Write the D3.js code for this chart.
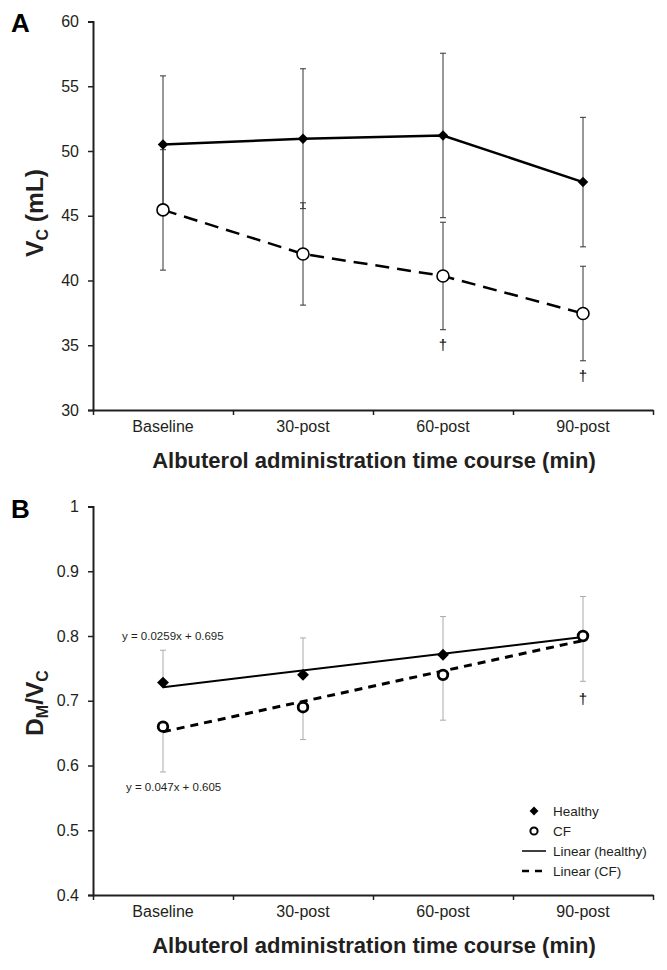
<!DOCTYPE html>
<html>
<head>
<meta charset="utf-8">
<script src="https://cdn.jsdelivr.net/npm/d3@7"></script>
<style>
  html, body { margin: 0; padding: 0; background: #fff; }
  svg { display: block; font-family: "Liberation Sans", Arial, sans-serif; }
</style>
</head>
<body>
<svg id="chart" width="667" height="970"></svg>
<script>
// ---------------- data ----------------
const categories = ["Baseline", "30-post", "60-post", "90-post"];

// Panel A: Vc (mL), mean and SD
const vcHealthy = [50.5, 50.95, 51.2, 47.6];
const vcHealthyErr = [5.3, 5.4, 6.35, 5.0];
const vcCF = [45.45, 42.05, 40.35, 37.45];
const vcCFErr = [4.65, 3.95, 4.15, 3.65];
const vcTicks = [30, 35, 40, 45, 50, 55, 60];
const vcDagger = [false, false, true, true];

// Panel B: DM/Vc
const dmHealthy = [0.728, 0.74, 0.771, 0.80];
const dmHealthyErr = [0.05, 0.057, 0.059, 0.061];
const dmCF = [0.66, 0.69, 0.74, 0.80];
const dmCFErr = [0.07, 0.05, 0.07, 0.07];
const dmTicks = [0.4, 0.5, 0.6, 0.7, 0.8, 0.9, 1];
const dmDagger = [false, false, false, true];

// Linear trendlines (Excel): slope, intercept
const trendHealthy = [0.0259, 0.695];
const trendCF = [0.047, 0.605];
const trendLabels = ["y = 0.0259x + 0.695", "y = 0.047x + 0.605"];

const legendLabels = ["Healthy", "CF", "Linear (healthy)", "Linear (CF)"];
const xTitle = "Albuterol administration time course (min)";

// ---------------- layout ----------------
const svg = d3.select("#chart");
const ink = "#231f20";
const left = 93, right = 653;

const x = d3.scaleBand().domain(categories).range([left, right]).padding(0);
const xEdge = d3.scaleLinear().domain([0, categories.length]).range([left, right]);
const cx = c => x(c) + x.bandwidth() / 2;

function drawAxes(g, y, ticks, fmt, top, bottom) {
  const ya = g.append("g").attr("transform", `translate(${left},0)`)
    .call(d3.axisLeft(y).tickValues(ticks).tickFormat(fmt).tickSize(5).tickPadding(9));
  ya.select(".domain").attr("stroke", ink).attr("stroke-width", 2);
  ya.selectAll(".tick line").attr("stroke", ink).attr("stroke-width", 1.5);
  ya.selectAll(".tick text").attr("fill", ink).style("font-size", "16px")
    .style("font-family", "Liberation Sans, Arial, sans-serif");
  const xa = g.append("g").attr("transform", `translate(0,${bottom})`)
    .call(d3.axisBottom(xEdge).tickValues(d3.range(categories.length + 1)).tickFormat("").tickSize(5).tickSizeOuter(0));
  xa.select(".domain").attr("stroke", ink).attr("stroke-width", 2);
  xa.selectAll(".tick line").attr("stroke", ink).attr("stroke-width", 1.5);
  const xl = g.append("g").attr("transform", `translate(0,${bottom})`)
    .call(d3.axisBottom(x).tickSize(0).tickPadding(11));
  xl.select(".domain").remove();
  xl.selectAll(".tick text").attr("fill", ink).style("font-size", "16px")
    .style("font-family", "Liberation Sans, Arial, sans-serif");
  g.append("text").attr("x", 374).attr("y", bottom + 58)
    .attr("text-anchor", "middle").attr("fill", ink)
    .style("font-size", "22px").style("font-weight", "bold").text(xTitle);
}

function diamond(sel, s) {
  sel.attr("d", d3.symbol().type(d3.symbolDiamond2 || d3.symbolDiamond).size(s));
}

function errBars(g, y, vals, errs, dirUp, dirDown, color, width) {
  const cap = 3;
  vals.forEach((v, i) => {
    const xc = cx(categories[i]);
    const hi = dirUp ? v + errs[i] : v;
    const lo = dirDown ? v - errs[i] : v;
    g.append("line").attr("x1", xc).attr("x2", xc).attr("y1", y(hi)).attr("y2", y(lo))
      .attr("stroke", color).attr("stroke-width", width);
    if (dirUp) g.append("line").attr("x1", xc - cap).attr("x2", xc + cap).attr("y1", y(hi)).attr("y2", y(hi))
      .attr("stroke", color).attr("stroke-width", width);
    if (dirDown) g.append("line").attr("x1", xc - cap).attr("x2", xc + cap).attr("y1", y(lo)).attr("y2", y(lo))
      .attr("stroke", color).attr("stroke-width", width);
  });
}

function dagger(g, xpos, ypos) {
  g.append("text").attr("x", xpos).attr("y", ypos).attr("text-anchor", "middle")
    .attr("fill", "#000").style("font-family", "Liberation Sans, Arial, sans-serif")
    .style("font-size", "15px").text("\u2020");
}

// ======================= Panel A =======================
const gA = svg.append("g");
const yA = d3.scaleLinear().domain([30, 60]).range([410, 21.5]);
drawAxes(gA, yA, vcTicks, d3.format("d"), 21.5, 410);

gA.append("text").attr("x", 11).attr("y", 32).attr("fill", "#000")
  .style("font-size", "26px").style("font-weight", "bold").text("A");

const ylabA = gA.append("text").attr("transform", "translate(43,213) rotate(-90)")
  .attr("text-anchor", "middle").attr("fill", ink).style("font-size", "24.5px").style("font-weight", "bold");
ylabA.append("tspan").text("V");
ylabA.append("tspan").attr("dy", 5).style("font-size", "16px").text("C");
ylabA.append("tspan").attr("dy", -5).text(" (mL)");

errBars(gA, yA, vcHealthy, vcHealthyErr, true, true, "#333", 1);
errBars(gA, yA, vcCF, vcCFErr, true, true, "#333", 1);

const lineA = d3.line().x((d, i) => cx(categories[i])).y(d => yA(d));
gA.append("path").datum(vcHealthy).attr("d", lineA).attr("fill", "none")
  .attr("stroke", "#000").attr("stroke-width", 2.5);
gA.append("path").datum(vcCF).attr("d", lineA).attr("fill", "none")
  .attr("stroke", "#000").attr("stroke-width", 2.5).attr("stroke-dasharray", "14,8");

gA.selectAll(".hA").data(vcHealthy).enter().append("path")
  .attr("transform", (d, i) => `translate(${cx(categories[i])},${yA(d)})`)
  .call(diamond, 70).attr("fill", "#000");
gA.selectAll(".cA").data(vcCF).enter().append("circle")
  .attr("cx", (d, i) => cx(categories[i])).attr("cy", d => yA(d)).attr("r", 6)
  .attr("fill", "#fff").attr("stroke", "#000").attr("stroke-width", 1.6);

vcCF.forEach((v, i) => {
  if (vcDagger[i]) dagger(gA, cx(categories[i]), yA(v - vcCFErr[i]) + 20);
});

// ======================= Panel B =======================
const gB = svg.append("g");
const yB = d3.scaleLinear().domain([0.4, 1]).range([895, 506.5]);
drawAxes(gB, yB, dmTicks, d => (d === 1 ? "1" : d3.format(".1f")(d)), 506.5, 895);

gB.append("text").attr("x", 11).attr("y", 518).attr("fill", "#000")
  .style("font-size", "26px").style("font-weight", "bold").text("B");

const ylabB = gB.append("text").attr("transform", "translate(43,703) rotate(-90)")
  .attr("text-anchor", "middle").attr("fill", ink).style("font-size", "24.5px").style("font-weight", "bold");
ylabB.append("tspan").text("D");
ylabB.append("tspan").attr("dy", 5).style("font-size", "16px").text("M");
ylabB.append("tspan").attr("dy", -5).text("/V");
ylabB.append("tspan").attr("dy", 5).style("font-size", "16px").text("C");

errBars(gB, yB, dmHealthy, dmHealthyErr, true, false, "#aaa", 1);
errBars(gB, yB, dmCF, dmCFErr, false, true, "#aaa", 1);

// trendlines evaluated at x = 1 and x = n
const xs = [1, categories.length];
const trendLine = tr => xs.map(k => ({ i: k - 1, v: tr[0] * k + tr[1] }));
const lineB = d3.line().x(d => cx(categories[d.i])).y(d => yB(d.v));
gB.append("path").datum(trendLine(trendHealthy)).attr("d", lineB)
  .attr("fill", "none").attr("stroke", "#000").attr("stroke-width", 2);
gB.append("path").datum(trendLine(trendCF)).attr("d", lineB)
  .attr("fill", "none").attr("stroke", "#000").attr("stroke-width", 3).attr("stroke-dasharray", "8,6");

gB.selectAll(".hB").data(dmHealthy).enter().append("path")
  .attr("transform", (d, i) => `translate(${cx(categories[i])},${yB(d)})`)
  .call(diamond, 90).attr("fill", "#000");
gB.selectAll(".cB").data(dmCF).enter().append("circle")
  .attr("cx", (d, i) => cx(categories[i])).attr("cy", d => yB(d)).attr("r", 4.8)
  .attr("fill", "#fff").attr("stroke", "#000").attr("stroke-width", 2.8);

dmCF.forEach((v, i) => {
  if (dmDagger[i]) dagger(gB, cx(categories[i]), yB(v - dmCFErr[i]) + 23);
});

// trendline equations
gB.append("text").attr("x", 122).attr("y", 640).attr("fill", ink).style("font-size", "11.5px").text(trendLabels[0]);
gB.append("text").attr("x", 126).attr("y", 791).attr("fill", ink).style("font-size", "11.5px").text(trendLabels[1]);

// legend
const lg = gB.append("g").attr("transform", "translate(522,811)");
const rowH = 20;
lg.append("path").attr("transform", "translate(12,0)").call(diamond, 50).attr("fill", "#000");
lg.append("circle").attr("cx", 12).attr("cy", rowH).attr("r", 3.6)
  .attr("fill", "#fff").attr("stroke", "#000").attr("stroke-width", 2);
lg.append("line").attr("x1", 0).attr("x2", 24).attr("y1", rowH * 2).attr("y2", rowH * 2)
  .attr("stroke", "#000").attr("stroke-width", 1.5);
lg.append("line").attr("x1", 0).attr("x2", 24).attr("y1", rowH * 3).attr("y2", rowH * 3)
  .attr("stroke", "#000").attr("stroke-width", 2.5).attr("stroke-dasharray", "7,6");
legendLabels.forEach((t, i) => {
  lg.append("text").attr("x", 31).attr("y", i * rowH + 5).attr("fill", ink)
    .style("font-size", "13.5px").text(t);
});
</script>
</body>
</html>
